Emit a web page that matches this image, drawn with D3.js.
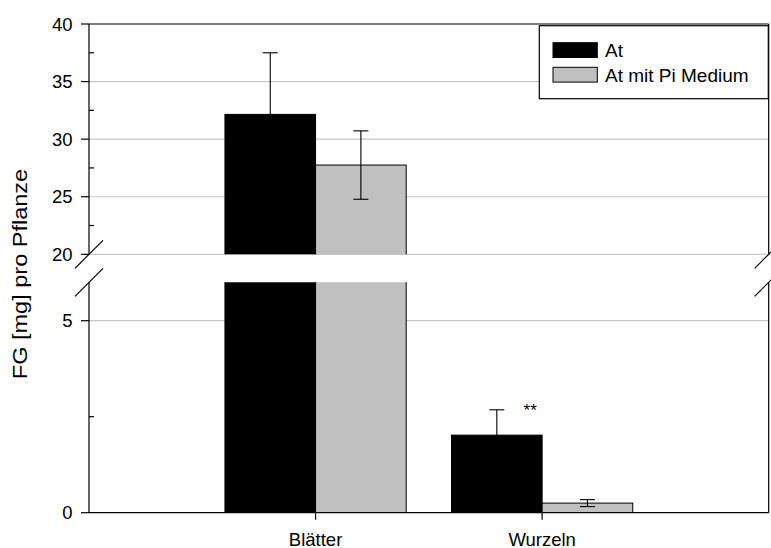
<!DOCTYPE html>
<html>
<head>
<meta charset="utf-8">
<script src="https://cdn.jsdelivr.net/npm/d3@7"></script>
<style>
  body { margin: 0; background: #fff; }
  svg { display: block; font-family: "Liberation Sans", Arial, sans-serif; }
</style>
</head>
<body>
<svg id="chart" width="771" height="548"></svg>
<script>
// Fresh weight per plant, two treatments, broken y axis
const categories = ["Blätter", "Wurzeln"];
const seriesNames = ["At", "At mit Pi Medium"];
const seriesColors = ["#000000", "#c0c0c0"];
const valuesAt = [32.15, 2.02];
const valuesAtPi = [27.75, 0.25];
const errorsAt = [5.35, 0.66];
const errorsAtPi = [2.97, 0.09];
const upperTicks = [20, 25, 30, 35, 40];
const upperMinor = [22.5, 27.5, 32.5, 37.5];
const lowerTicks = [0, 5];
const lowerMinor = [2.5];
const lowerGrid = [5];
const upperGrid = [20, 25, 30, 35];
const significance = ["", "**"];
const yTitle = "FG [mg] pro Pflanze";

const svg = d3.select("#chart");
const left = 89, right = 768.7;
const upperTop = 24, upperBottom = 254.3;
const lowerTop = 282.3, lowerBottom = 512.7;

const x = d3.scalePoint().domain(categories).range([left, right]).padding(1);
const step = x.step();
const barW = 0.4 * step;
const yUp = d3.scaleLinear().domain([20, 40]).range([upperBottom, upperTop]);
const yLo = d3.scaleLinear().domain([0, 6]).range([lowerBottom, lowerTop]);

const defs = svg.append("defs");
defs.append("clipPath").attr("id", "clipUp").append("rect")
  .attr("x", left).attr("y", upperTop).attr("width", right - left).attr("height", upperBottom - upperTop);
defs.append("clipPath").attr("id", "clipLo").append("rect")
  .attr("x", left).attr("y", lowerTop).attr("width", right - left).attr("height", lowerBottom - lowerTop);

// grid lines
svg.append("g").selectAll("line").data(upperGrid).join("line")
  .attr("x1", left).attr("x2", right)
  .attr("y1", d => yUp(d)).attr("y2", d => yUp(d))
  .attr("stroke", "#c8c8c8").attr("stroke-width", 1.2);
svg.append("g").selectAll("line").data(lowerGrid).join("line")
  .attr("x1", left).attr("x2", right)
  .attr("y1", d => yLo(d)).attr("y2", d => yLo(d))
  .attr("stroke", "#c8c8c8").attr("stroke-width", 1.2);

const rows = [];
categories.forEach((c, i) => {
  rows.push({ cat: c, s: 0, v: valuesAt[i], e: errorsAt[i] });
  rows.push({ cat: c, s: 1, v: valuesAtPi[i], e: errorsAtPi[i] });
});
const bx = d => x(d.cat) + (d.s === 0 ? -barW : 0);

// bars, drawn in each panel and clipped to it
[[yUp, "clipUp"], [yLo, "clipLo"]].forEach(([y, clip]) => {
  const g = svg.append("g").attr("clip-path", `url(#${clip})`);
  g.selectAll("rect").data(rows).join("rect")
    .attr("x", d => bx(d))
    .attr("width", barW)
    .attr("y", d => y(d.v))
    .attr("height", d => Math.max(0, y(y.domain()[0] - 1) - y(d.v)))
    .attr("fill", d => seriesColors[d.s])
    .attr("stroke", "#000").attr("stroke-width", 1);
});

// error bars
const capW = 15;
rows.forEach(d => {
  const y = d.v >= 20 ? yUp : yLo;
  const cx = bx(d) + barW / 2;
  const g = svg.append("g").attr("stroke", "#000").attr("stroke-width", 1.1);
  g.append("line").attr("x1", cx).attr("x2", cx).attr("y1", y(d.v - d.e)).attr("y2", y(d.v + d.e));
  g.append("line").attr("x1", cx - capW / 2).attr("x2", cx + capW / 2).attr("y1", y(d.v + d.e)).attr("y2", y(d.v + d.e));
  g.append("line").attr("x1", cx - capW / 2).attr("x2", cx + capW / 2).attr("y1", y(d.v - d.e)).attr("y2", y(d.v - d.e));
});

// significance marks
categories.forEach((c, i) => {
  if (!significance[i]) return;
  svg.append("text")
    .attr("x", x(c) - 12)
    .attr("y", yLo(valuesAt[i] + errorsAt[i]) + 6)
    .attr("text-anchor", "middle")
    .attr("font-size", 17)
    .text(significance[i]);
});

// frame and axes
const ax = svg.append("g").attr("stroke", "#000").attr("stroke-width", 1.2).attr("fill", "none");
ax.append("line").attr("x1", left).attr("x2", right).attr("y1", upperTop).attr("y2", upperTop);
ax.append("line").attr("x1", left).attr("x2", right).attr("y1", lowerBottom).attr("y2", lowerBottom);
[left, right].forEach(xx => {
  ax.append("line").attr("x1", xx).attr("x2", xx).attr("y1", upperTop).attr("y2", upperBottom);
  ax.append("line").attr("x1", xx).attr("x2", xx).attr("y1", lowerTop).attr("y2", lowerBottom);
  // break marks
  [upperBottom, lowerTop].forEach(yy => {
    ax.append("line").attr("x1", xx - 14).attr("x2", xx + 14).attr("y1", yy + 14).attr("y2", yy - 14);
  });
});

// y ticks
const tickFont = 18.5;
function yTicks(scale, major, minor) {
  const g = svg.append("g");
  g.selectAll("line.maj").data(major).join("line").attr("class", "maj")
    .attr("x1", left - 8).attr("x2", left)
    .attr("y1", d => scale(d)).attr("y2", d => scale(d))
    .attr("stroke", "#000").attr("stroke-width", 1.2);
  g.selectAll("line.min").data(minor).join("line").attr("class", "min")
    .attr("x1", left).attr("x2", left + 5)
    .attr("y1", d => scale(d)).attr("y2", d => scale(d))
    .attr("stroke", "#000").attr("stroke-width", 1.2);
  g.selectAll("text").data(major).join("text")
    .attr("x", left - 16.5)
    .attr("y", d => scale(d))
    .attr("dy", "0.36em")
    .attr("text-anchor", "end")
    .attr("font-size", tickFont)
    .text(d => d);
}
yTicks(yUp, upperTicks, upperMinor);
yTicks(yLo, lowerTicks, lowerMinor);

// x ticks and labels
const xg = svg.append("g");
xg.selectAll("line").data(categories).join("line")
  .attr("x1", d => x(d)).attr("x2", d => x(d))
  .attr("y1", lowerBottom).attr("y2", lowerBottom + 7)
  .attr("stroke", "#000").attr("stroke-width", 1.2);
xg.selectAll("text").data(categories).join("text")
  .attr("x", d => x(d))
  .attr("y", 545.5)
  .attr("text-anchor", "middle")
  .attr("font-size", tickFont)
  .text(d => d);

// y axis title
svg.append("text")
  .attr("transform", "translate(27,274) rotate(-90) scale(1.12,1)")
  .attr("text-anchor", "middle")
  .attr("font-size", 21)
  .text(yTitle);

// legend
const lg = svg.append("g");
lg.append("rect").attr("x", 539.3).attr("y", 25.7).attr("width", 229).attr("height", 73)
  .attr("fill", "#fff").attr("stroke", "#000").attr("stroke-width", 1.2);
seriesNames.forEach((n, i) => {
  const yy = 42.7 + i * 24.6;
  lg.append("rect").attr("x", 553).attr("y", yy).attr("width", 44.3).attr("height", 14.8)
    .attr("fill", seriesColors[i]).attr("stroke", "#000").attr("stroke-width", 1);
  lg.append("text").attr("x", 605).attr("y", yy + 7.4).attr("dy", "0.36em")
    .attr("font-size", 19).text(n);
});
</script>
</body>
</html>
